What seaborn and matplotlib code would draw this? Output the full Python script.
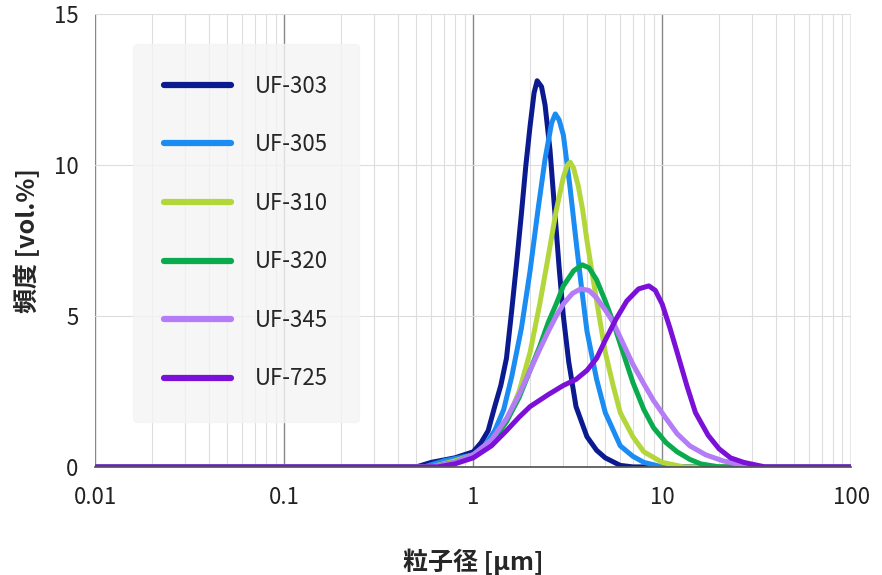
import matplotlib
matplotlib.use("Agg")
import matplotlib.pyplot as plt
import seaborn as sns
import pandas as pd
from matplotlib.ticker import LogLocator, NullFormatter

sns.set_theme(style="white")
plt.rcParams['font.family'] = ['Noto Sans CJK JP', 'DejaVu Sans']

names = ["UF-303", "UF-305", "UF-310", "UF-320", "UF-345", "UF-725"]
colors = ["#0b1a8e", "#1a8cf2", "#b3d63a", "#0aab4e", "#b47cf6", "#7b10d8"]

x303 = [0.01, 0.5, 0.6, 0.8, 1.0, 1.1, 1.2, 1.3, 1.4, 1.5, 1.6, 1.7, 1.8, 1.9, 2.0, 2.1, 2.18, 2.3, 2.4, 2.55, 2.7, 2.85, 3.0, 3.2, 3.5, 4, 4.5, 5, 6, 7, 100]
y303 = [0, 0, 0.15, 0.3, 0.5, 0.8, 1.2, 2.0, 2.7, 3.6, 5.2, 6.8, 8.4, 10.0, 11.3, 12.4, 12.8, 12.6, 12.0, 10.5, 8.5, 6.6, 5.0, 3.5, 2.0, 1.0, 0.55, 0.3, 0.05, 0, 0]
x305 = [0.01, 0.55, 0.7, 1, 1.15, 1.3, 1.45, 1.6, 1.8, 2, 2.2, 2.4, 2.6, 2.72, 2.85, 3, 3.25, 3.5, 3.75, 4, 4.5, 5, 6, 7, 8, 10, 100]
y305 = [0, 0, 0.2, 0.4, 0.7, 1.2, 1.9, 3.0, 4.6, 6.5, 8.5, 10.2, 11.4, 11.7, 11.5, 11.0, 9.3, 7.5, 5.9, 4.5, 2.9, 1.8, 0.7, 0.35, 0.15, 0, 0]
x310 = [0.01, 0.6, 0.8, 1, 1.25, 1.5, 1.75, 2, 2.25, 2.5, 2.75, 3, 3.15, 3.26, 3.4, 3.6, 3.8, 4, 4.5, 5, 5.5, 6, 7, 8, 10, 13, 100]
y310 = [0, 0, 0.2, 0.4, 0.8, 1.5, 2.5, 3.8, 5.4, 7.0, 8.5, 9.6, 10.0, 10.1, 9.9, 9.3, 8.5, 7.5, 5.5, 3.8, 2.7, 1.8, 1.0, 0.5, 0.15, 0, 0]
x320 = [0.01, 0.6, 0.8, 1, 1.25, 1.5, 1.75, 2, 2.25, 2.5, 2.75, 3, 3.4, 3.77, 4.1, 4.5, 5, 5.5, 6.2, 7, 8, 9, 10.5, 12, 14, 16, 20, 100]
y320 = [0, 0, 0.15, 0.4, 0.8, 1.5, 2.3, 3.2, 4.0, 4.8, 5.4, 6.0, 6.5, 6.7, 6.6, 6.2, 5.5, 4.8, 3.8, 2.8, 1.9, 1.3, 0.8, 0.5, 0.25, 0.1, 0, 0]
x345 = [0.01, 0.6, 0.8, 1, 1.25, 1.5, 1.75, 2, 2.25, 2.5, 2.75, 3, 3.35, 3.7, 4.1, 4.5, 5, 5.5, 6.2, 7, 8, 9, 10.5, 12, 14, 17, 21, 25, 32, 100]
y345 = [0, 0, 0.15, 0.4, 0.9, 1.6, 2.4, 3.2, 3.9, 4.5, 5.0, 5.4, 5.75, 5.9, 5.85, 5.6, 5.2, 4.8, 4.1, 3.4, 2.75, 2.2, 1.6, 1.1, 0.7, 0.4, 0.2, 0.1, 0, 0]
x725 = [0.01, 0.65, 0.8, 1, 1.25, 1.5, 1.75, 2, 2.5, 3, 3.5, 4, 4.5, 5, 5.7, 6.5, 7.5, 8.5, 9.2, 10, 11, 12, 13.5, 15, 17.5, 20, 23, 27, 35, 100]
y725 = [0, 0, 0.1, 0.3, 0.7, 1.2, 1.65, 2.0, 2.4, 2.7, 2.9, 3.2, 3.6, 4.2, 4.9, 5.5, 5.9, 6.0, 5.85, 5.4, 4.6, 3.8, 2.7, 1.8, 1.05, 0.6, 0.3, 0.15, 0, 0]

xs = [x303, x305, x310, x320, x345, x725]
ys = [y303, y305, y310, y320, y345, y725]
df = pd.concat([pd.DataFrame({"x": a, "y": b, "s": n}) for a, b, n in zip(xs, ys, names)])

fig, ax = plt.subplots(figsize=(8.82, 5.75), dpi=100)
fig.subplots_adjust(left=0.108, right=0.965, top=0.975, bottom=0.188)
sns.lineplot(data=df, x="x", y="y", hue="s", palette=colors, linewidth=3.6,
             sort=False, estimator=None, ax=ax)
for l in ax.get_lines():
    l.set_solid_joinstyle("round")
ax.set_xscale("log")
ax.set_xlim(0.01, 100)
ax.set_ylim(0, 15)
ax.set_yticks([0, 5, 10, 15])
ax.set_xticks([0.01, 0.1, 1, 10, 100])
ax.set_xticklabels(["0.01", "0.1", "1", "10", "100"])
ax.xaxis.set_minor_locator(LogLocator(base=10, subs=range(2, 10)))
ax.xaxis.set_minor_formatter(NullFormatter())
ax.grid(True, which="major", axis="x", color="#888888", lw=1)
ax.grid(True, which="minor", axis="x", color="#dddddd", lw=0.8)
ax.grid(True, which="major", axis="y", color="#dddddd", lw=0.8)
for s in ["top", "right", "left"]:
    ax.spines[s].set_visible(False)
ax.spines["bottom"].set_color("#555555")
ax.tick_params(axis="both", labelsize=16, length=0, colors="#222222")
ax.tick_params(axis="x", pad=14)
ax.tick_params(axis="y", pad=12)
ax.set_xlabel("粒子径 [µm]", fontsize=18, fontweight="bold", labelpad=28)
ax.set_ylabel("頻度 [vol.%]", fontsize=18, fontweight="bold", labelpad=10)
leg = ax.legend(loc="upper left", bbox_to_anchor=(0.035, 0.96), fontsize=16,
                frameon=True, fancybox=True, handlelength=3.0, labelspacing=1.6,
                borderpad=1.4, handletextpad=1.1)
leg.get_frame().set_facecolor("#f4f4f4")
leg.get_frame().set_edgecolor("#f4f4f4")
for l in leg.get_lines():
    l.set_linewidth(4.5)
fig.savefig("out.png", dpi=100)
